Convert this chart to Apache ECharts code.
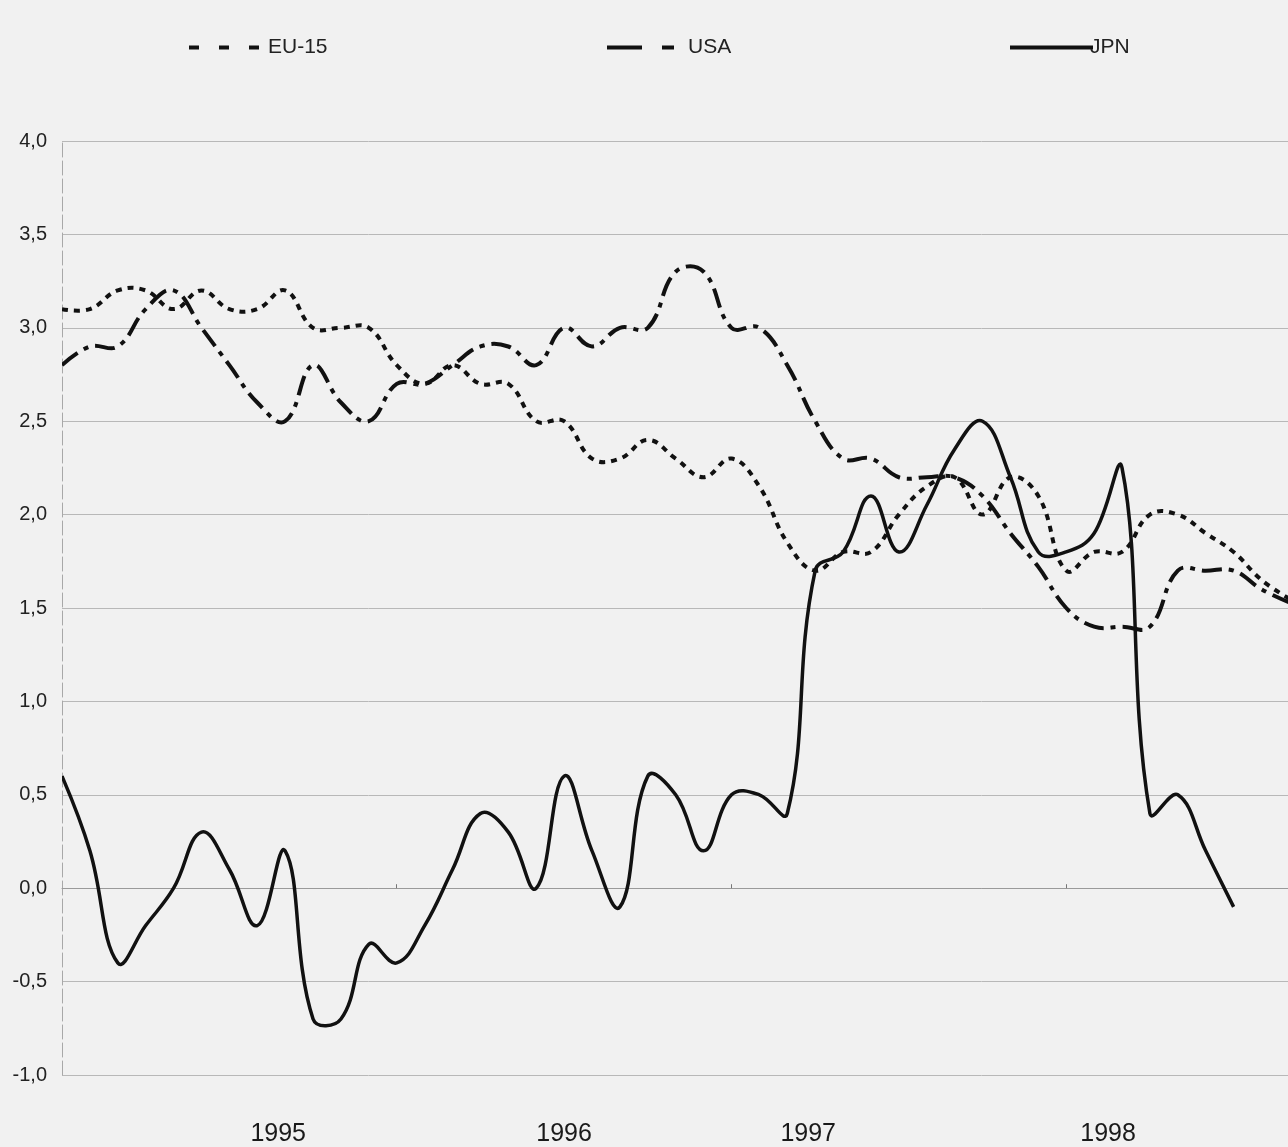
<!DOCTYPE html>
<html>
<head>
<meta charset="utf-8">
<title>EU-15, USA, JPN</title>
<script src="https://cdn.jsdelivr.net/npm/echarts@6/dist/echarts.min.js"></script>
<style>
  html, body { margin: 0; padding: 0; background: #f1f1f1; }
  #chart { width: 1288px; height: 1147px; }
</style>
</head>
<body>
<div id="chart"></div>
<script>
// Monthly year-on-year rates, January 1995 onwards (one value per month)
const seriesNames = ['EU-15', 'USA', 'JPN'];

const euValues = [
  3.1, 3.1, 3.2, 3.2, 3.1, 3.2, 3.1, 3.1, 3.2, 3.0, 3.0, 3.0,
  2.8, 2.7, 2.8, 2.7, 2.7, 2.5, 2.5, 2.3, 2.3, 2.4, 2.3, 2.2,
  2.3, 2.15, 1.85, 1.7, 1.8, 1.8, 2.0, 2.15, 2.2, 2.0, 2.2, 2.1,
  1.7, 1.8, 1.8, 2.0, 2.0, 1.9, 1.8, 1.65, 1.55
];

const usaValues = [
  2.8, 2.9, 2.9, 3.1, 3.2, 3.0, 2.8, 2.6, 2.5, 2.8, 2.6, 2.5,
  2.7, 2.7, 2.8, 2.9, 2.9, 2.8, 3.0, 2.9, 3.0, 3.0, 3.3, 3.3,
  3.0, 3.0, 2.8, 2.5, 2.3, 2.3, 2.2, 2.2, 2.2, 2.1, 1.9, 1.72,
  1.5, 1.4, 1.4, 1.4, 1.7, 1.7, 1.7, 1.6, 1.53
];

const jpnValues = [
  0.6, 0.2, -0.4, -0.2, 0.0, 0.3, 0.1, -0.2, 0.2, -0.7, -0.7, -0.3,
  -0.4, -0.2, 0.1, 0.4, 0.3, 0.0, 0.6, 0.2, -0.1, 0.6, 0.5, 0.2,
  0.5, 0.5, 0.4, 1.7, 1.8, 2.1, 1.8, 2.05, 2.35, 2.5, 2.2, 1.8,
  1.8, 1.9, 2.25, 0.4, 0.5, 0.2, -0.1
];

// Year captions on the time axis and the month index each one sits under
const yearLabels = ['1995', '1996', '1997', '1998'];
const yearLabelAt = [7.75, 18, 26.75, 37.5];
// Year boundaries (January of 1996, 1997, 1998)
const yearTicksAt = [12, 24, 36];

// Value axis ticks
const yTicks = [-1.0, -0.5, 0.0, 0.5, 1.0, 1.5, 2.0, 2.5, 3.0, 3.5, 4.0];

const toPoints = arr => arr.map((v, i) => [i, v]);
const fontFamily = '"Liberation Sans", Arial, Helvetica, sans-serif';
const ink = '#111';

const styles = {
  'EU-15': { width: 4, dash: [6, 6], legendDash: [10, 20] },
  'USA':   { width: 4, dash: [20, 7, 5, 7], legendDash: [35, 20, 12, 30] },
  'JPN':   { width: 3.5, dash: null, legendDash: 'solid' }
};

const chart = echarts.init(document.getElementById('chart'), null, { renderer: 'canvas' });

// One legend block per series so each key sits at its own spot
const legendBlock = (left, width, name, pad) => ({
  top: 32,
  left: left,
  itemWidth: width,
  itemHeight: 14,
  data: [name],
  lineStyle: { type: styles[name].legendDash, width: 4, color: ink, cap: 'butt' },
  itemStyle: { opacity: 0 },
  textStyle: { color: '#222', fontSize: 21, fontFamily: fontFamily, padding: [0, 0, 0, pad] }
});

// Legend keys: empty line series carrying each name's stroke style
const legendKey = name => ({
  name: name,
  type: 'line',
  data: [],
  symbol: 'none',
  lineStyle: { color: ink, width: styles[name].width, type: styles[name].dash || 'solid' },
  itemStyle: { color: ink }
});

// Smoothed curve through the monthly points, drawn as one stroked path
const curve = (name, values) => ({
  name: name,
  type: 'custom',
  data: toPoints(values),
  encode: { x: 0, y: 1 },
  z: name === 'JPN' ? 4 : 3,
  renderItem: (params, api) => {
    if (params.dataIndex !== 0) return null;
    const pts = values.map((v, i) => api.coord([i, v]));
    const cs = params.coordSys;
    return {
      type: 'polyline',
      shape: { points: pts, smooth: 0.42, smoothConstraint: false },
      style: {
        fill: null,
        stroke: ink,
        lineWidth: styles[name].width,
        lineDash: styles[name].dash,
        lineCap: 'butt',
        lineJoin: 'round'
      },
      clipPath: { type: 'rect', shape: { x: cs.x, y: cs.y - 4, width: cs.width, height: cs.height + 8 } },
      silent: true
    };
  }
});

chart.setOption({
  animation: false,
  backgroundColor: '#f1f1f1',
  legend: [
    legendBlock(182, 72, seriesNames[0], 2),
    legendBlock(600, 70, seriesNames[1], 6),
    legendBlock(1003, 83, seriesNames[2], -8)
  ],
  grid: { left: 62, right: 0, top: 141, bottom: 72, containLabel: false },
  xAxis: {
    type: 'value',
    min: 0,
    max: 43.95,
    axisLine: { show: true, lineStyle: { color: '#9a9a9a', width: 1 } },
    axisTick: {
      show: true, inside: true, length: 4,
      customValues: yearTicksAt,
      lineStyle: { color: '#777' }
    },
    splitLine: { show: false },
    axisLabel: {
      customValues: yearLabelAt,
      formatter: v => {
        const k = yearLabelAt.findIndex(p => Math.abs(p - v) < 1e-6);
        return k >= 0 ? yearLabels[k] : '';
      },
      margin: 47,
      color: '#1a1a1a',
      fontSize: 25,
      fontFamily: fontFamily
    }
  },
  yAxis: {
    type: 'value',
    min: yTicks[0],
    max: yTicks[yTicks.length - 1],
    interval: 0.5,
    axisLine: { show: true, lineStyle: { color: '#a8a8a8', width: 1, type: [14, 4] } },
    axisTick: { show: false },
    splitLine: { show: true, lineStyle: { color: '#b8b8b8', width: 1 } },
    axisLabel: {
      formatter: v => v.toFixed(1).replace('.', ','),
      margin: 15,
      color: '#222',
      fontSize: 20,
      fontFamily: fontFamily
    }
  },
  series: [
    legendKey(seriesNames[0]),
    legendKey(seriesNames[1]),
    legendKey(seriesNames[2]),
    curve(seriesNames[0], euValues),
    curve(seriesNames[1], usaValues),
    curve(seriesNames[2], jpnValues)
  ]
});
</script>
</body>
</html>
